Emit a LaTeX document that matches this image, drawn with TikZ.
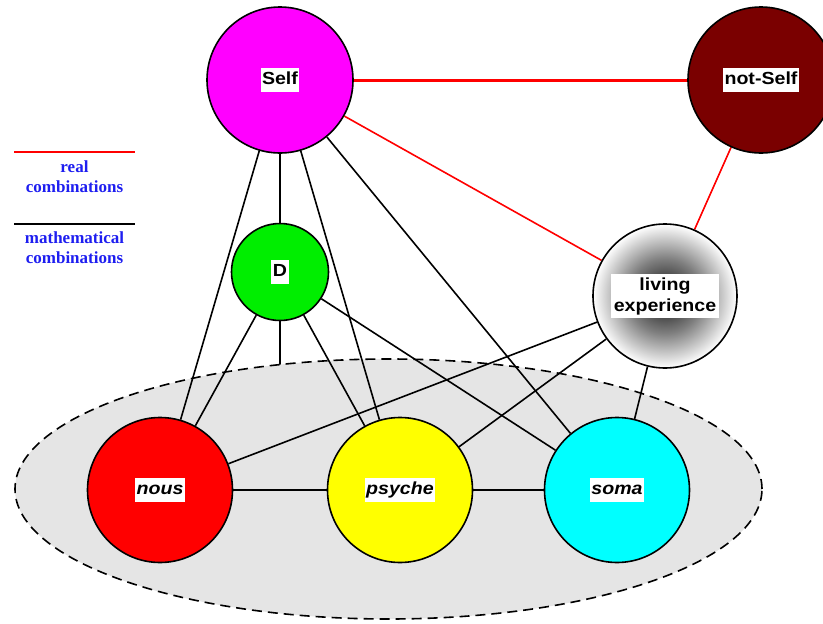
\documentclass[tikz,border=0pt]{standalone}
\usepackage{fontspec}
\usetikzlibrary{shapes.geometric}
\newfontfamily\lblfont[FakeStretch=1.12]{Liberation Sans}
\newfontfamily\keyfont{Liberation Serif}
\definecolor{selfpink}{RGB}{255,0,255}
\definecolor{maroonfill}{RGB}{122,0,0}
\definecolor{dgreen}{RGB}{0,238,0}
\definecolor{nousred}{RGB}{255,0,0}
\definecolor{psycheyellow}{RGB}{255,255,0}
\definecolor{somacyan}{RGB}{0,255,255}
\definecolor{fieldgray}{RGB}{229,229,229}
\definecolor{keyblue}{RGB}{30,30,240}
\definecolor{realred}{RGB}{255,0,0}
\pgfdeclarelayer{deep}
\pgfdeclarelayer{back}
\pgfsetlayers{deep,back,main}
% dark core fading to white towards the rim
\pgfdeclareradialshading{lifeglow}{\pgfpoint{0bp}{0bp}}{color(0bp)=(black!85); color(5bp)=(black!78); color(13bp)=(black!50); color(25bp)=(white); color(50bp)=(white)}
\begin{document}
\begin{tikzpicture}[x=1pt,y=-1pt,
  orb/.style={circle,draw=black,line width=1.6pt,inner sep=0pt},
  tag/.style={fill=white,inner xsep=1.5pt,inner ysep=3.5pt,text height=13pt,text depth=4pt,
              font=\lblfont\bfseries\fontsize{17.5}{21}\selectfont},
  itag/.style={tag,font=\lblfont\bfseries\itshape\fontsize{17.5}{21}\selectfont},
  twotag/.style={fill=white,inner xsep=2.5pt,inner ysep=3.8pt,align=center,
              font=\lblfont\bfseries\fontsize{17.5}{21}\selectfont},
  link/.style={line width=1.6pt,black},
  reallink/.style={line width=1.6pt,realred},
  keytext/.style={font=\keyfont\bfseries\fontsize{17}{20}\selectfont,text=keyblue,align=center,inner sep=0pt}]

\useasboundingbox (0,0) rectangle (823,624);

% circles
\node[orb,fill=selfpink,minimum size=146pt] (Self) at (280,80) {};
\node[orb,fill=maroonfill,minimum size=146pt] (notSelf) at (761,80) {};
\node[orb,fill=dgreen,minimum size=97pt] (D) at (280,272) {};
\node[orb,shading=lifeglow,minimum size=144pt] (life) at (665,296) {};
\node[orb,fill=nousred,minimum size=145pt] (nous) at (160,490) {};
\node[orb,fill=psycheyellow,minimum size=145pt] (psyche) at (400,490) {};
\node[orb,fill=somacyan,minimum size=145pt] (soma) at (617,490) {};

% labels
\node[tag] (SelfTag) at (Self) {Self};
\node[tag] (notSelfTag) at (notSelf) {not-Self};
\node[tag] (DTag) at (D) {D};
\node[twotag] (lifeTag) at (life) {living\\experience};
\node[itag] (nousTag) at (nous) {nous};
\node[itag] (psycheTag) at (psyche) {psyche};
\node[itag] (somaTag) at (soma) {soma};

\begin{pgfonlayer}{back}
  % the three-part field
  \node[ellipse,draw=black,line width=1.6pt,dash pattern=on 10pt off 6pt,fill=fieldgray,
        minimum width=747pt,minimum height=260pt,inner sep=0pt] (field) at (388.5,489) {};
  % real combinations
  \draw[realred,line width=3pt] (Self) -- (notSelf);
  \draw[reallink] (Self) -- (life);
  \draw[reallink] (notSelf) -- (life);
  % mathematical combinations
  \draw[link] (Self) -- (D);
  \draw[link] (Self) -- (nous);
  \draw[link] (Self) -- (psyche);
  \draw[link] (Self) -- (soma);
  \draw[link] (D) -- (nous);
  \draw[link] (D) -- (psyche);
  \draw[link] (D) -- (soma);
  \draw[link] (life) -- (nous);
  \draw[link] (life) -- (psyche);
  \draw[link] (life) -- (soma);
  \draw[link] (nous) -- (psyche);
  \draw[link] (psyche) -- (soma);
\end{pgfonlayer}
\begin{pgfonlayer}{deep}
  % D joined to the field as a whole (hidden under the fill)
  \draw[link] (D) -- (D |- field.center);
\end{pgfonlayer}

% key
\coordinate (redA) at (14,152);
\coordinate (redB) at (135,152);
\coordinate (blackA) at (14,224);
\coordinate (blackB) at (135,224);
\draw[realred,line width=1.6pt] (redA) -- (redB);
\draw[black,line width=1.6pt] (blackA) -- (blackB);
\node[keytext] (realKey) at (74.5,176.5) {real\\combinations};
\node[keytext] (mathKey) at (74.5,247.5) {mathematical\\combinations};
\end{tikzpicture}
\end{document}
